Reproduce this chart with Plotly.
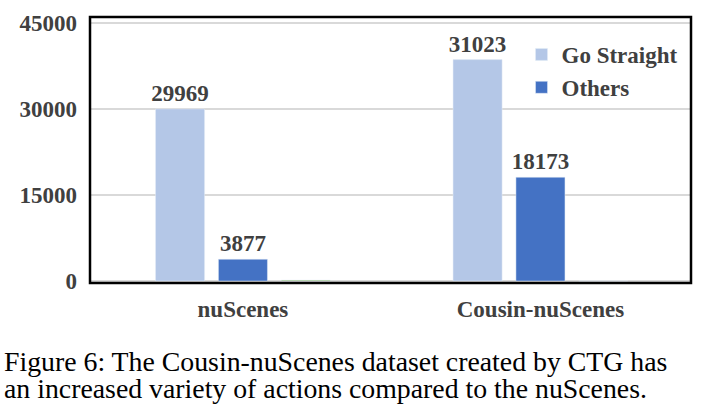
import plotly.graph_objects as go

categories = ["nuScenes", "Cousin-nuScenes"]
go_straight = [30000, 38600]
go_straight_labels = ["29969", "31023"]
others = [3800, 18100]
others_labels = ["3877", "18173"]
third = [150, 0]
y_ticks = [0, 15000, 30000, 45000]
caption_lines = ["Figure 6: The Cousin-nuScenes dataset created by CTG has",
                 "an increased variety of actions compared to the nuScenes."]

FONT = "Liberation Serif"
TXT = "#404040"
BOLD = dict(family=FONT, size=23, color=TXT, weight="bold")

fig = go.Figure()
fig.add_trace(go.Bar(x=categories, y=go_straight, name="Go Straight", marker_color="#B4C7E7",
                     text=go_straight_labels, textposition="outside", cliponaxis=False,
                     constraintext="none", textfont=BOLD))
fig.add_trace(go.Bar(x=categories, y=others, name="Others", marker_color="#4472C4",
                     text=others_labels, textposition="outside", cliponaxis=False,
                     constraintext="none", textfont=BOLD))
fig.add_trace(go.Bar(x=categories, y=third, name="", marker_color="#70AD47",
                     showlegend=False, cliponaxis=False))

annotations = []
for i, line in enumerate(caption_lines):
    annotations.append(dict(xref="paper", yref="paper", x=-0.146, y=-0.23 - i * 0.1015,
                            xanchor="left", yanchor="top", align="left", showarrow=False,
                            text=line, font=dict(family=FONT, size=27.8, color="black")))

fig.update_layout(
    width=719, height=416,
    margin=dict(l=90, r=28, t=17, b=133),
    paper_bgcolor="white", plot_bgcolor="white",
    barmode="group", bargap=0.366, bargroupgap=0.22,
    font=dict(family=FONT, size=23, color=TXT),
    showlegend=True,
    legend=dict(x=0.718, y=0.94, xanchor="left", yanchor="top",
                font=BOLD, bgcolor="rgba(0,0,0,0)", tracegroupgap=0, itemwidth=30),
    xaxis=dict(range=[-0.514, 1.506], showgrid=False, showline=False, ticks="",
               ticklabelstandoff=10, automargin=False, tickfont=BOLD),
    yaxis=dict(range=[-340, 46030], tickvals=y_ticks, tickformat="d", showgrid=True,
               gridcolor="#D9D9D9", gridwidth=1.5, zeroline=True, zerolinecolor="#D9D9D9",
               zerolinewidth=1.5, showline=False, ticks="", ticklabelstandoff=12,
               automargin=False, tickfont=BOLD),
    shapes=[dict(type="rect", xref="paper", yref="paper", x0=0, x1=1, y0=0, y1=1,
                 line=dict(color="black", width=2.5), layer="above")],
    annotations=annotations,
)

fig.write_html("out.html", config={"displayModeBar": False},
               post_script="document.body.style.margin='0';")
